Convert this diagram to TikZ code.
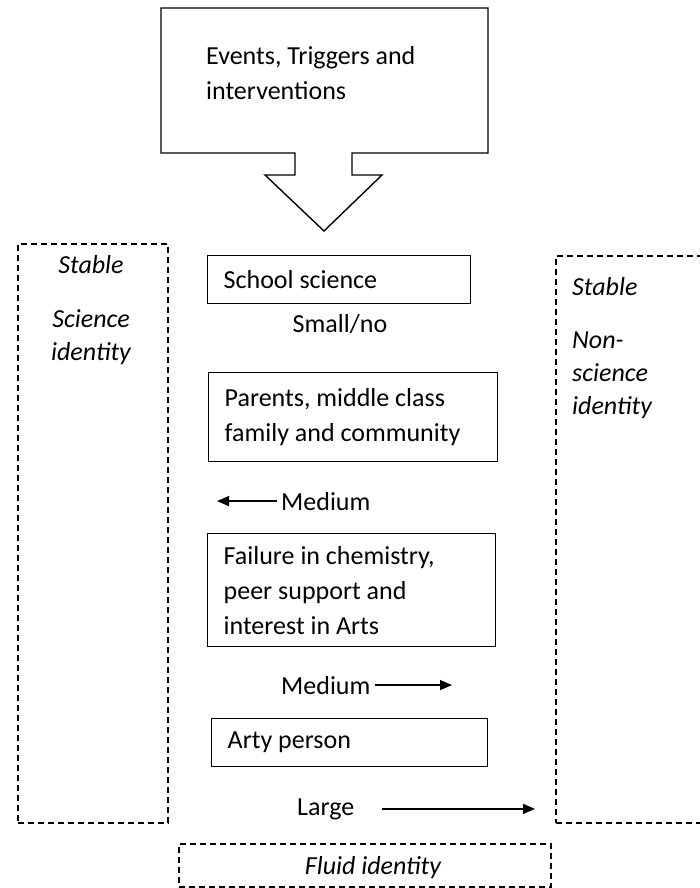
\documentclass[tikz,border=0pt]{standalone}
\usepackage{fontspec}
\setmainfont{Carlito}
\usetikzlibrary{arrows.meta, positioning}

\begin{document}
\begin{tikzpicture}[
        x=1pt, y=-1pt,
        every node/.style={font=\fontsize{26}{35}\selectfont},
        box/.style={draw, line width=1.4pt, inner xsep=16pt, inner ysep=0pt, align=flush left, anchor=north west},
        zone/.style={draw, dash pattern=on 6pt off 4pt, line width=1.6pt, inner sep=0pt, anchor=north west},
        zonetext/.style={font=\fontsize{26}{33}\selectfont\itshape, inner sep=0pt},
        lbl/.style={inner sep=4pt},
        arr/.style={-{Triangle[length=12pt, width=10pt]}, line width=1.4pt}
    ]
        \useasboundingbox (0,0) rectangle (700,888);
        \clip (0,0) rectangle (700,888);

        % trigger callout
        \draw[line width=1.4pt] (161,8) -- (488,8) -- (488,153) -- (352,153) -- (352,175) -- (382,175)
            -- (324,231) -- (265,175) -- (295,175) -- (295,153) -- (161,153) -- cycle;
        \node[anchor=west, inner sep=0pt, align=flush left] (events) at (206,73) {Events, Triggers and\\interventions};

        % identity zones
        \node[zone, minimum width=150pt, minimum height=579pt] (stablesci) at (17,243) {};
        \node[zone, minimum width=170pt, minimum height=567pt] (stablenon) at (555,255) {};
        \node[zone, minimum width=372pt, minimum height=43pt] (fluid) at (178,843) {};
        \node[zonetext, anchor=base, align=center] (scitext) at (91,360) {Stable\\[21pt]Science\\identity};
        \node[zonetext, anchor=base west, align=flush left] (nontext) at (572,414) {Stable\\[20pt]Non-\\science\\identity};
        \node[zonetext, anchor=base] (fluidtext) at (373,874) {Fluid identity};

        % influences
        \node[box, text width=231pt, minimum height=48pt] (school) at (207,255) {School science};
        \node[box, text width=257pt, minimum height=89pt] (parents) at (208,372) {Parents, middle class\\family and community};
        \node[box, text width=256pt, minimum height=113pt] (failure) at (207,533) {Failure in chemistry,\\peer support and\\interest in Arts};
        \node[box, text width=244pt, minimum height=48pt] (arty) at (211,718) {Arty person};

        % strength of pull
        \node[lbl, anchor=base] (smallno) at (340,332) {Small/no};
        \node[lbl, anchor=base west] (medleft) at (277,510) {Medium};
        \node[lbl, anchor=base west] (medright) at (277,694) {Medium};
        \node[lbl, anchor=base west] (large) at (293,815) {Large};
        \coordinate (medlefttip) at (217,0);
        \coordinate (medrighttip) at (452,0);
        \coordinate (largetail) at (382,0);
        \coordinate (largetip) at (535,0);

        \draw[arr] (medleft.west) -- (medleft.west -| medlefttip);
        \draw[arr] (medright.east) -- (medright.east -| medrighttip);
        \draw[arr] (large.east -| largetail) -- (large.east -| largetip);
    \end{tikzpicture}
\end{document}
